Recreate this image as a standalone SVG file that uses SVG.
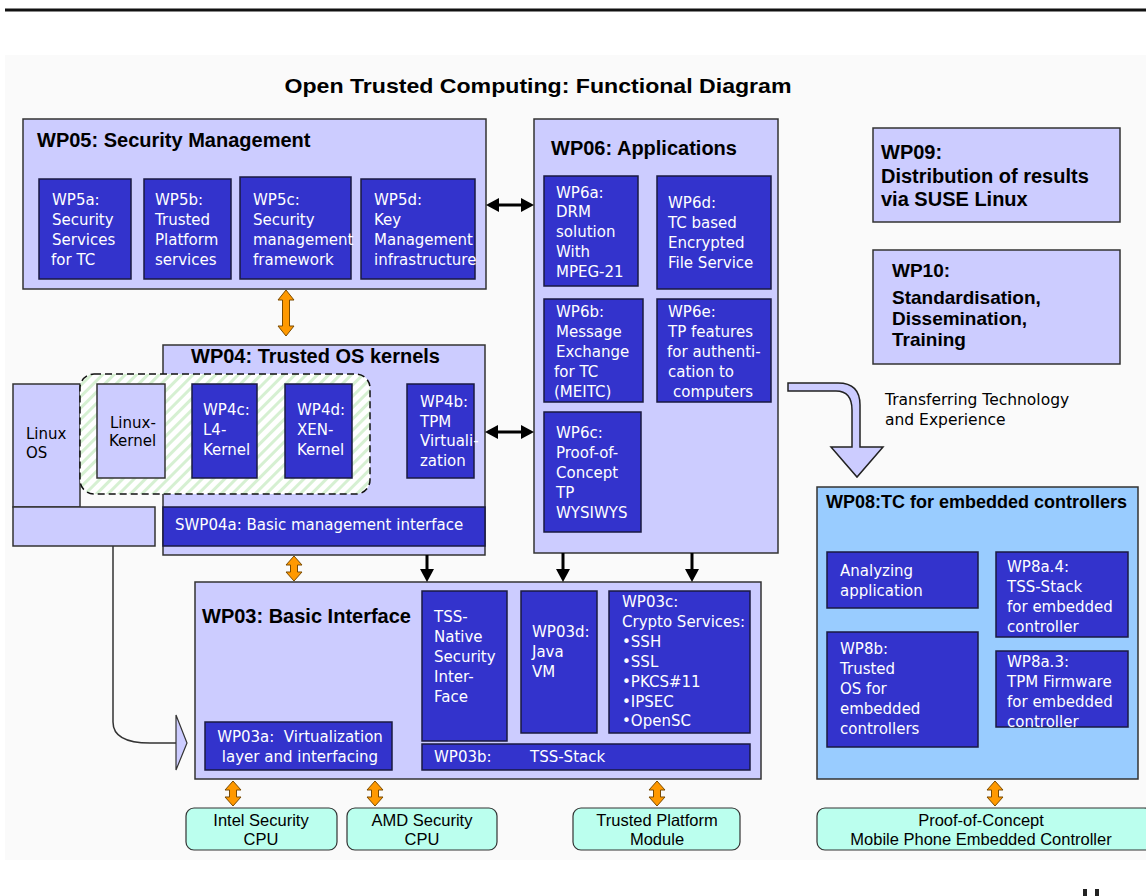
<svg xmlns="http://www.w3.org/2000/svg" width="1146" height="896" viewBox="0 0 1146 896">
  <style>
    .lav { fill: #ccccff; stroke: #333; stroke-width: 1.5; }
    .blue { fill: #3333cc; stroke: #1a1a40; stroke-width: 1.5; }
    .sky { fill: #99ccff; stroke: #333; stroke-width: 1.5; }
    .mint { fill: #bbffee; stroke: #333; stroke-width: 1.2; }
    .title { font-family: "Liberation Sans", Arial, sans-serif; font-weight: bold; font-size: 20px; fill: #000; }
    .wt { font-family: "DejaVu Sans", Verdana, sans-serif; font-size: 15px; fill: #fff; }
    .dk { font-family: "DejaVu Sans", Verdana, sans-serif; font-size: 15px; fill: #000; }
    .cap { font-family: "Liberation Sans", Arial, sans-serif; font-size: 16.5px; fill: #000; text-anchor: middle; }
    .orange { fill: #ff9900; stroke: #7a4a00; stroke-width: 1; }
    .blk { stroke: #000; stroke-width: 3; fill: none; }
    .thin { stroke: #333; stroke-width: 1.5; fill: none; }
  </style>
  <defs>
    <marker id="head" viewBox="0 0 13 14" refX="0" refY="7" markerWidth="13" markerHeight="14" markerUnits="userSpaceOnUse" orient="auto-start-reverse">
      <path d="M0,0 L13,7 L0,14 z" fill="#000"/>
    </marker>
    <pattern id="hatch" width="8" height="8" patternUnits="userSpaceOnUse" patternTransform="rotate(45)">
      <rect width="8" height="8" fill="#ffffff"/>
      <rect width="3" height="8" fill="#d6f0d2"/>
    </pattern>
    <clipPath id="clip8a3">
      <rect x="996" y="651" width="132" height="76"/>
    </clipPath>
  </defs>

  <!-- page -->
  <rect x="0" y="0" width="1146" height="896" fill="#ffffff"/>
  <rect x="5" y="55" width="1141" height="805" fill="#fafafa"/>
  <rect x="5" y="8.5" width="1141" height="3" fill="#111"/>
  <rect x="1083" y="889" width="4" height="7" fill="#222"/>
  <rect x="1095" y="889" width="4" height="7" fill="#222"/>

  <text x="538" y="93" class="title" text-anchor="middle" style="font-size:21px" textLength="507" lengthAdjust="spacingAndGlyphs">Open Trusted Computing: Functional Diagram</text>

  <!-- WP05 -->
  <g id="wp05">
    <rect x="23" y="119" width="463" height="170" class="lav"/>
    <text x="37" y="147" class="title">WP05: Security Management</text>
    <g id="wp5a">
      <rect x="39" y="179" width="92" height="100" class="blue"/>
      <text class="wt"><tspan x="52" y="205">WP5a:</tspan><tspan x="52" y="225">Security</tspan><tspan x="52" y="245">Services</tspan><tspan x="51" y="265">for TC</tspan></text>
    </g>
    <g id="wp5b">
      <rect x="144" y="179" width="87" height="100" class="blue"/>
      <text class="wt"><tspan x="155" y="205">WP5b:</tspan><tspan x="155" y="225">Trusted</tspan><tspan x="155" y="245">Platform</tspan><tspan x="155" y="265">services</tspan></text>
    </g>
    <g id="wp5c">
      <rect x="240" y="177" width="111" height="102" class="blue"/>
      <text class="wt"><tspan x="253" y="205">WP5c:</tspan><tspan x="253" y="225">Security</tspan><tspan x="253" y="245">management</tspan><tspan x="253" y="265">framework</tspan></text>
    </g>
    <g id="wp5d">
      <rect x="361" y="179" width="114" height="100" class="blue"/>
      <text class="wt"><tspan x="374" y="205">WP5d:</tspan><tspan x="374" y="225">Key</tspan><tspan x="374" y="245">Management</tspan><tspan x="374" y="265">infrastructure</tspan></text>
    </g>
  </g>

  <!-- WP06 -->
  <g id="wp06">
    <rect x="534" y="119" width="244" height="434" class="lav"/>
    <text x="551" y="155" class="title">WP06: Applications</text>
    <g id="wp6a">
      <rect x="544" y="176" width="94" height="110" class="blue"/>
      <text class="wt"><tspan x="556" y="198">WP6a:</tspan><tspan x="556" y="217">DRM</tspan><tspan x="556" y="237">solution</tspan><tspan x="556" y="257">With</tspan><tspan x="556" y="277">MPEG-21</tspan></text>
    </g>
    <g id="wp6d">
      <rect x="657" y="176" width="114" height="113" class="blue"/>
      <text class="wt"><tspan x="668" y="208">WP6d:</tspan><tspan x="668" y="228">TC based</tspan><tspan x="668" y="248">Encrypted</tspan><tspan x="668" y="268">File Service</tspan></text>
    </g>
    <g id="wp6b">
      <rect x="544" y="299" width="99" height="103" class="blue"/>
      <text class="wt"><tspan x="556" y="317">WP6b:</tspan><tspan x="556" y="337">Message</tspan><tspan x="556" y="357">Exchange</tspan><tspan x="554" y="377">for TC</tspan><tspan x="554" y="397">(MEITC)</tspan></text>
    </g>
    <g id="wp6e">
      <rect x="657" y="299" width="114" height="103" class="blue"/>
      <text class="wt"><tspan x="668" y="317">WP6e:</tspan><tspan x="668" y="337">TP features</tspan><tspan x="667" y="357">for authenti-</tspan><tspan x="668" y="377">cation to</tspan><tspan x="673" y="397">computers</tspan></text>
    </g>
    <g id="wp6c">
      <rect x="544" y="412" width="97" height="120" class="blue"/>
      <text class="wt"><tspan x="556" y="438">WP6c:</tspan><tspan x="556" y="458">Proof-of-</tspan><tspan x="556" y="478">Concept</tspan><tspan x="556" y="498">TP</tspan><tspan x="556" y="518">WYSIWYS</tspan></text>
    </g>
  </g>

  <!-- WP09 / WP10 -->
  <g id="wp09">
    <rect x="873" y="128" width="247" height="94" class="lav"/>
    <text class="title"><tspan x="881" y="159">WP09:</tspan><tspan x="881" y="183">Distribution of results</tspan><tspan x="881" y="206">via SUSE Linux</tspan></text>
  </g>
  <g id="wp10">
    <rect x="873" y="250" width="247" height="114" class="lav"/>
    <text class="title" style="font-size:19px"><tspan x="892" y="277">WP10:</tspan><tspan x="892" y="304">Standardisation,</tspan><tspan x="892" y="325">Dissemination,</tspan><tspan x="892" y="346">Training</tspan></text>
  </g>

  <!-- Linux OS column -->
  <g id="linux-os">
    <rect x="13" y="384" width="67" height="123" class="lav"/>
    <rect x="13" y="507" width="142" height="39" class="lav"/>
    <text class="dk"><tspan x="26" y="439">Linux</tspan><tspan x="26" y="458">OS</tspan></text>
  </g>

  <!-- WP04 -->
  <g id="wp04">
    <rect x="163" y="345" width="322" height="210" class="lav"/>
    <text x="191" y="363" class="title">WP04: Trusted OS kernels</text>
    <rect x="80" y="374" width="290" height="120" rx="14" fill="url(#hatch)" stroke="#111" stroke-width="1.5" stroke-dasharray="7 4"/>
    <g id="linux-kernel">
      <rect x="97" y="384" width="68" height="94" class="lav"/>
      <text class="dk"><tspan x="110" y="428">Linux-</tspan><tspan x="109" y="446">Kernel</tspan></text>
    </g>
    <g id="wp4c">
      <rect x="192" y="384" width="65" height="94" class="blue"/>
      <text class="wt"><tspan x="203" y="415">WP4c:</tspan><tspan x="203" y="435">L4-</tspan><tspan x="203" y="455">Kernel</tspan></text>
    </g>
    <g id="wp4d">
      <rect x="285" y="384" width="67" height="94" class="blue"/>
      <text class="wt"><tspan x="297" y="415">WP4d:</tspan><tspan x="297" y="435">XEN-</tspan><tspan x="297" y="455">Kernel</tspan></text>
    </g>
    <g id="wp4b">
      <rect x="407" y="384" width="67" height="94" class="blue"/>
      <text class="wt"><tspan x="420" y="407">WP4b:</tspan><tspan x="420" y="427">TPM</tspan><tspan x="420" y="446">Virtuali-</tspan><tspan x="420" y="466">zation</tspan></text>
    </g>
    <g id="swp04a">
      <rect x="163" y="507" width="322" height="39" class="blue"/>
      <text x="175" y="530" class="wt">SWP04a: Basic management interface</text>
    </g>
  </g>

  <!-- WP03 -->
  <g id="wp03">
    <rect x="195" y="582" width="566" height="197" class="lav"/>
    <text x="202" y="623" class="title">WP03: Basic Interface</text>
    <g id="tss-native">
      <rect x="422" y="591" width="85" height="150" class="blue"/>
      <text class="wt"><tspan x="434" y="622">TSS-</tspan><tspan x="434" y="642">Native</tspan><tspan x="434" y="662">Security</tspan><tspan x="434" y="682">Inter-</tspan><tspan x="434" y="702">Face</tspan></text>
    </g>
    <g id="wp03d">
      <rect x="521" y="591" width="76" height="142" class="blue"/>
      <text class="wt"><tspan x="532" y="637">WP03d:</tspan><tspan x="532" y="657">Java</tspan><tspan x="532" y="677">VM</tspan></text>
    </g>
    <g id="wp03c">
      <rect x="609" y="591" width="141" height="142" class="blue"/>
      <text class="wt"><tspan x="622" y="607">WP03c:</tspan><tspan x="622" y="627">Crypto Services:</tspan><tspan x="622" y="647">•SSH</tspan><tspan x="622" y="667">•SSL</tspan><tspan x="622" y="687">•PKCS#11</tspan><tspan x="622" y="707">•IPSEC</tspan><tspan x="622" y="726">•OpenSC</tspan></text>
    </g>
    <g id="wp03a">
      <rect x="205" y="722" width="187" height="48" class="blue"/>
      <text class="wt" text-anchor="middle"><tspan x="300" y="742">WP03a:&#160; Virtualization</tspan><tspan x="300" y="762">layer and interfacing</tspan></text>
    </g>
    <g id="wp03b">
      <rect x="422" y="744" width="328" height="26" class="blue"/>
      <text class="wt"><tspan x="434" y="762">WP03b:</tspan><tspan x="530" y="762">TSS-Stack</tspan></text>
    </g>
  </g>

  <!-- WP08 -->
  <g id="wp08">
    <rect x="817" y="487" width="321" height="292" class="sky"/>
    <text x="826" y="508" class="title" style="font-size:18px">WP08:TC for embedded controllers</text>
    <g id="analyzing">
      <rect x="827" y="552" width="151" height="56" class="blue"/>
      <text class="wt"><tspan x="840" y="576">Analyzing</tspan><tspan x="840" y="596">application</tspan></text>
    </g>
    <g id="wp8b">
      <rect x="827" y="632" width="151" height="115" class="blue"/>
      <text class="wt"><tspan x="840" y="654">WP8b:</tspan><tspan x="840" y="674">Trusted</tspan><tspan x="840" y="694">OS for</tspan><tspan x="840" y="714">embedded</tspan><tspan x="840" y="734">controllers</tspan></text>
    </g>
    <g id="wp8a4">
      <rect x="996" y="552" width="132" height="85" class="blue"/>
      <text class="wt"><tspan x="1007" y="572">WP8a.4:</tspan><tspan x="1007" y="592">TSS-Stack</tspan><tspan x="1007" y="612">for embedded</tspan><tspan x="1007" y="632">controller</tspan></text>
    </g>
    <g id="wp8a3">
      <rect x="996" y="651" width="132" height="76" class="blue"/>
      <text class="wt" clip-path="url(#clip8a3)"><tspan x="1007" y="667">WP8a.3:</tspan><tspan x="1007" y="687">TPM Firmware</tspan><tspan x="1007" y="707">for embedded</tspan><tspan x="1007" y="727">controller</tspan></text>
    </g>
  </g>

  <!-- hardware targets -->
  <g id="intel-cpu">
    <rect x="186" y="808" width="151" height="42" rx="8" class="mint"/>
    <text class="cap"><tspan x="261" y="826">Intel Security</tspan><tspan x="261" y="845">CPU</tspan></text>
  </g>
  <g id="amd-cpu">
    <rect x="347" y="808" width="150" height="42" rx="8" class="mint"/>
    <text class="cap"><tspan x="422" y="826">AMD Security</tspan><tspan x="422" y="845">CPU</tspan></text>
  </g>
  <g id="tpm">
    <rect x="573" y="808" width="167" height="42" rx="8" class="mint"/>
    <text class="cap"><tspan x="657" y="826">Trusted Platform</tspan><tspan x="657" y="845">Module</tspan></text>
  </g>
  <g id="mobile-poc">
    <rect x="817" y="808" width="335" height="42" rx="8" class="mint"/>
    <text class="cap"><tspan x="981" y="826">Proof-of-Concept</tspan><tspan x="981" y="845">Mobile Phone Embedded Controller</tspan></text>
  </g>

  <!-- technology transfer note -->
  <g id="transfer">
    <path d="M788,383 L838,383 Q860,383 860,405 L860,447 L883,447 L857,477 L831,447 L852,447 L852,410 Q852,391 836,391 L788,391 Z" fill="#ccccff" stroke="#222" stroke-width="1.5"/>
    <text class="dk" style="font-size:15.5px"><tspan x="885" y="405">Transferring Technology</tspan><tspan x="885" y="425">and Experience</tspan></text>
  </g>

  <!-- connectors -->
  <g id="connectors">
    <!-- black data-flow arrows -->
    <line x1="499" y1="205" x2="521" y2="205" class="blk" marker-start="url(#head)" marker-end="url(#head)"/>
    <line x1="498" y1="432" x2="521" y2="432" class="blk" marker-start="url(#head)" marker-end="url(#head)"/>
    <line x1="427" y1="555" x2="427" y2="569" class="blk" marker-end="url(#head)"/>
    <line x1="563" y1="553" x2="563" y2="569" class="blk" marker-end="url(#head)"/>
    <line x1="692" y1="553" x2="692" y2="569" class="blk" marker-end="url(#head)"/>

    <!-- Linux OS to virtualization layer -->
    <path d="M113,546 L113,722 Q113,743 150,743 L176,743" class="thin"/>
    <polygon points="176,715 187,743 176,770" fill="#ccccff" stroke="#333" stroke-width="1.2"/>

    <!-- orange interface arrows -->
    <polygon class="orange" points="286,290 294,300 289.5,300 289.5,326 294,326 286,336 278,326 282.5,326 282.5,300 278,300"/>
    <polygon class="orange" points="294,556 302,565 297.5,565 297.5,572 302,572 294,581 286,572 290.5,572 290.5,565 286,565"/>
    <polygon class="orange" points="233,781 241,790 236.5,790 236.5,797 241,797 233,806 225,797 229.5,797 229.5,790 225,790"/>
    <polygon class="orange" points="375,781 383,790 378.5,790 378.5,797 383,797 375,806 367,797 371.5,797 371.5,790 367,790"/>
    <polygon class="orange" points="657,781 665,790 660.5,790 660.5,797 665,797 657,806 649,797 653.5,797 653.5,790 649,790"/>
    <polygon class="orange" points="995,781 1003,790 998.5,790 998.5,797 1003,797 995,806 987,797 991.5,797 991.5,790 987,790"/>
  </g>
</svg>
